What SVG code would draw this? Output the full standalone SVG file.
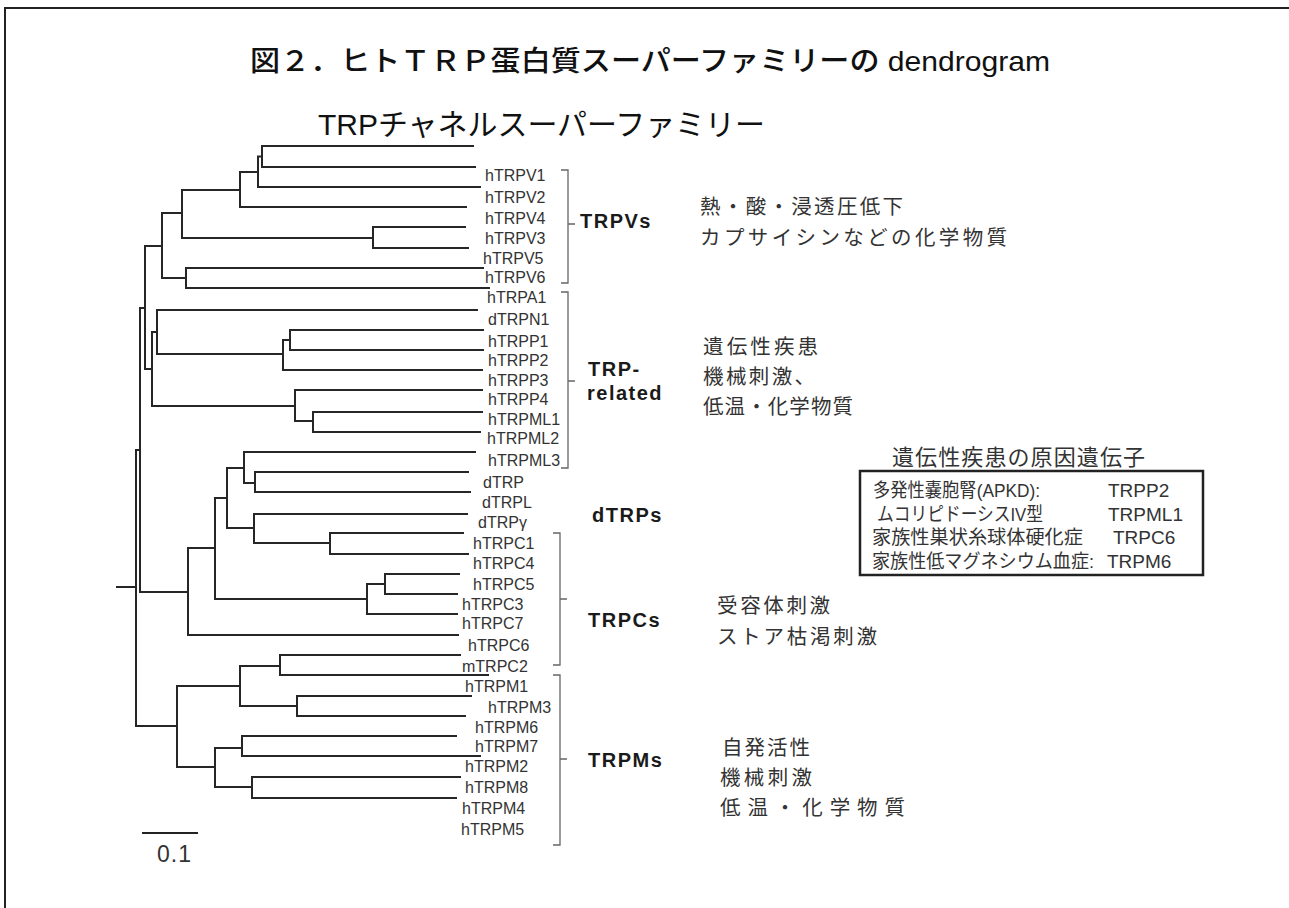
<svg xmlns="http://www.w3.org/2000/svg" width="1289" height="908" viewBox="0 0 1289 908">
<style>
.br{stroke:#262626;stroke-width:2;fill:none;stroke-linejoin:miter;stroke-linecap:square}
.bk{stroke:#666;stroke-width:1.3;fill:none}
.lf{font-family:"Liberation Sans",Arial,sans-serif;font-size:16px;fill:#333}
.fam{font-family:"Liberation Sans",Arial,sans-serif;font-size:20px;font-weight:bold;fill:#1a1a1a;letter-spacing:1.5px}
.jp{font-family:"Noto Sans CJK JP",sans-serif;font-size:20.5px;fill:#333}
.bx{font-family:"Liberation Sans","Noto Sans CJK JP",sans-serif;font-size:19px;fill:#333}
.ttl{font-family:"Liberation Sans","Noto Sans CJK JP",sans-serif;fill:#111}
</style>
<rect x="0" y="0" width="1289" height="908" fill="#fff"/>
<g id="frame"><path d="M5,908 V8 H1289" stroke="#222" stroke-width="2" fill="none"/></g>
<g id="title"><text class="ttl" x="250" y="71" style="font-size:28px;font-weight:500" textLength="800" lengthAdjust="spacingAndGlyphs">図２．ヒトＴＲＰ蛋白質スーパーファミリーの dendrogram</text></g>
<g id="subtitle"><text class="ttl" x="318" y="135" style="font-size:30px" textLength="447" lengthAdjust="spacingAndGlyphs">TRPチャネルスーパーファミリー</text></g>
<g id="connectors">
<path class="br" d="M473,146 H262 V167 H475"/>
<path class="br" d="M262,156.5 H258 V187 H480"/>
<path class="br" d="M258,172 H240 V207 H466"/>
<path class="br" d="M465,227 H373 V248 H468"/>
<path class="br" d="M240,190 H182 V238 H373"/>
<path class="br" d="M483,268 H186 V288 H489"/>
<path class="br" d="M182,213 H162 V278 H186"/>
<path class="br" d="M477,310 H157 V354 H283"/>
<path class="br" d="M483,330 H290 V350 H483"/>
<path class="br" d="M290,340 H283 V370 H482"/>
<path class="br" d="M482,412 H313 V432 H480"/>
<path class="br" d="M482,390 H295 V421 H313"/>
<path class="br" d="M157,332 H152 V406 H295"/>
<path class="br" d="M162,246 H145 V369 H152"/>
<path class="br" d="M145,308 H140 V592 H188"/>
<path class="br" d="M468,472 H255 V492 H470"/>
<path class="br" d="M475,452 H244 V483 H255"/>
<path class="br" d="M463,533 H330 V554 H468"/>
<path class="br" d="M467,514 H254 V543 H330"/>
<path class="br" d="M244,468 H227 V528 H254"/>
<path class="br" d="M459,574 H385 V594 H457"/>
<path class="br" d="M385,584 H367 V614 H457"/>
<path class="br" d="M227,498 H215 V599 H367"/>
<path class="br" d="M215,548 H188 V635 H458"/>
<path class="br" d="M140,450 H136 V726 H177"/>
<path class="br" d="M117,587 H136"/>
<path class="br" d="M460,655 H280 V675 H488"/>
<path class="br" d="M471,696 H297 V716 H465"/>
<path class="br" d="M280,666 H240 V706 H297"/>
<path class="br" d="M456,736 H242 V756 H480"/>
<path class="br" d="M460,777 H252 V798 H456"/>
<path class="br" d="M242,748 H215 V787 H252"/>
<path class="br" d="M240,686 H177 V767 H215"/>
<path class="bk" d="M561,170 H568 V283 H561 M568,224 H575"/>
<path class="bk" d="M561,292 H568 V468 H561 M568,381 H575"/>
<path class="bk" d="M553,533 H560 V665 H553 M560,599 H567"/>
<path class="bk" d="M553,675 H560 V845 H553 M560,759 H567"/>
</g>
<g id="leaves">
<text class="lf" x="485" y="181">hTRPV1</text>
<text class="lf" x="485" y="203">hTRPV2</text>
<text class="lf" x="485" y="224">hTRPV4</text>
<text class="lf" x="485" y="244">hTRPV3</text>
<text class="lf" x="483" y="264">hTRPV5</text>
<text class="lf" x="485" y="283">hTRPV6</text>
<text class="lf" x="487" y="303">hTRPA1</text>
<text class="lf" x="488" y="325">dTRPN1</text>
<text class="lf" x="488" y="347">hTRPP1</text>
<text class="lf" x="488" y="366">hTRPP2</text>
<text class="lf" x="488" y="386">hTRPP3</text>
<text class="lf" x="488" y="405">hTRPP4</text>
<text class="lf" x="488" y="425">hTRPML1</text>
<text class="lf" x="487" y="444">hTRPML2</text>
<text class="lf" x="488" y="466">hTRPML3</text>
<text class="lf" x="483" y="488">dTRP</text>
<text class="lf" x="482" y="508">dTRPL</text>
<text class="lf" x="478" y="528">dTRPγ</text>
<text class="lf" x="473" y="549">hTRPC1</text>
<text class="lf" x="473" y="569">hTRPC4</text>
<text class="lf" x="473" y="590">hTRPC5</text>
<text class="lf" x="462" y="610">hTRPC3</text>
<text class="lf" x="462" y="629">hTRPC7</text>
<text class="lf" x="468" y="651">hTRPC6</text>
<text class="lf" x="462" y="672">mTRPC2</text>
<text class="lf" x="465" y="692">hTRPM1</text>
<text class="lf" x="488" y="713">hTRPM3</text>
<text class="lf" x="475" y="733">hTRPM6</text>
<text class="lf" x="475" y="752">hTRPM7</text>
<text class="lf" x="465" y="772">hTRPM2</text>
<text class="lf" x="465" y="793">hTRPM8</text>
<text class="lf" x="462" y="814">hTRPM4</text>
<text class="lf" x="461" y="835">hTRPM5</text>
</g>
<g id="TRPVs">
<text class="fam" x="580" y="228">TRPVs</text>
<text class="jp" x="700" y="214" textLength="203">熱・酸・浸透圧低下</text>
<text class="jp" x="700" y="245" textLength="307">カプサイシンなどの化学物質</text>
</g>
<g id="TRP-related">
<text class="fam" x="588" y="376">TRP-</text>
<text class="fam" x="587" y="400">related</text>
<text class="jp" x="703" y="354" textLength="115">遺伝性疾患</text>
<text class="jp" x="703" y="384" textLength="112">機械刺激、</text>
<text class="jp" x="703" y="414" textLength="150">低温・化学物質</text>
</g>
<g id="dTRPs"><text class="fam" x="592" y="522">dTRPs</text></g>
<g id="TRPCs">
<text class="fam" x="588" y="627">TRPCs</text>
<text class="jp" x="717" y="613" textLength="113">受容体刺激</text>
<text class="jp" x="717" y="644" textLength="160">ストア枯渇刺激</text>
</g>
<g id="TRPMs">
<text class="fam" x="588" y="767">TRPMs</text>
<text class="jp" x="722" y="755" textLength="88">自発活性</text>
<text class="jp" x="720" y="785" textLength="92">機械刺激</text>
<text class="jp" x="720" y="815" textLength="185">低温・化学物質</text>
</g>
<g id="disease-box">
<text class="jp" x="892" y="465" style="font-size:22px" textLength="253">遺伝性疾患の原因遺伝子</text>
<rect x="860" y="471" width="343" height="104" fill="none" stroke="#222" stroke-width="2.5"/>
<text class="bx" x="873" y="497" textLength="167" lengthAdjust="spacingAndGlyphs">多発性嚢胞腎(APKD):</text>
<text class="bx" x="1108" y="497">TRPP2</text>
<text class="bx" x="877" y="521" textLength="166" lengthAdjust="spacingAndGlyphs">ムコリピドーシスIV型</text>
<text class="bx" x="1108" y="521">TRPML1</text>
<text class="bx" x="872" y="544" textLength="211" lengthAdjust="spacingAndGlyphs">家族性巣状糸球体硬化症</text>
<text class="bx" x="1113" y="544">TRPC6</text>
<text class="bx" x="872" y="568" textLength="222" lengthAdjust="spacingAndGlyphs">家族性低マグネシウム血症:</text>
<text class="bx" x="1107" y="568">TRPM6</text>
</g>
<g id="scale-bar">
<path d="M142,833 H198" stroke="#222" stroke-width="2"/>
<text x="157" y="862" style="font-family:'Liberation Sans',Arial,sans-serif;font-size:23px;fill:#333;letter-spacing:1px">0.1</text>
</g>
</svg>
